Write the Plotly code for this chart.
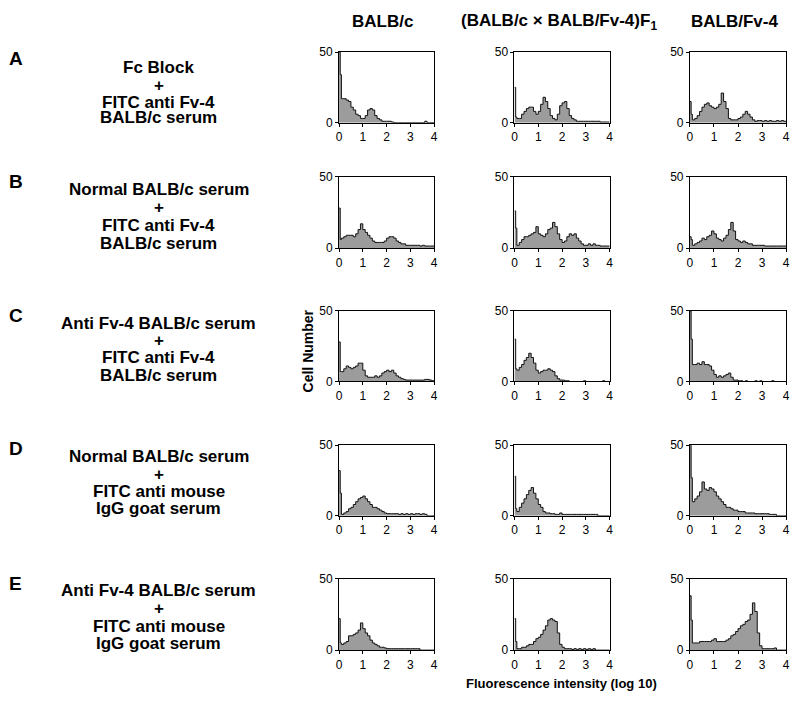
import plotly.graph_objects as go
from plotly.subplots import make_subplots

# left edges of the histogram channels (log10 fluorescence)
BIN_EDGES = [0.0, 0.05, 0.1, 0.2, 0.3, 0.4, 0.5, 0.6, 0.7, 0.8, 0.9,
             1.0, 1.1, 1.2, 1.3, 1.4, 1.5, 1.6, 1.7, 1.8, 1.9,
             2.0, 2.1, 2.2, 2.3, 2.4, 2.5, 2.6, 2.7, 2.8, 2.9,
             3.0, 3.1, 3.2, 3.3, 3.4, 3.5, 3.6, 3.7, 3.8, 3.9]
X_END = 4.0

STRAINS = ["BALB/c", "(BALB/c × BALB/Fv-4)F<sub>1</sub>", "BALB/Fv-4"]
ROW_LETTERS = ["A", "B", "C", "D", "E"]
TREATMENTS = [
    ["Fc Block", "+", "FITC anti Fv-4", "BALB/c serum"],
    ["Normal BALB/c serum", "+", "FITC anti Fv-4", "BALB/c serum"],
    ["Anti Fv-4 BALB/c serum", "+", "FITC anti Fv-4", "BALB/c serum"],
    ["Normal BALB/c serum", "+", "FITC anti mouse", "IgG goat serum"],
    ["Anti Fv-4 BALB/c serum", "+", "FITC anti mouse", "IgG goat serum"],
]

# cell counts per channel
A_BALBC = [50, 34, 17, 17, 16, 15, 11, 9, 6, 5, 3,
           3, 5, 9, 10, 9, 5, 3, 2, 1, 1,
           1, 1, 0.5, 0, 0, 0, 0, 0, 0, 0,
           0, 0, 0, 0, 0, 0, 1, 0, 0, 0]
A_F1 = [25, 4, 3, 3, 6, 8, 10, 11, 11, 8, 6,
        8, 13, 18, 15, 10, 5, 3, 2, 6, 12,
        14, 15, 10, 5, 3, 2, 1, 1, 1, 1,
        1, 1, 1, 1, 1, 1, 0.5, 0.5, 0.5, 0.5]
A_FV4 = [15, 6, 2, 3, 5, 8, 11, 13, 14, 12, 11,
         10, 11, 13, 21, 15, 10, 3, 2, 2, 2,
         3, 4, 6, 8, 6, 4, 2, 1, 1.5, 1.5,
         1, 1.5, 1, 1.5, 1, 1, 1.5, 1, 1.5, 1]

B_BALBC = [28, 6, 7, 8, 9, 9, 9, 8, 10, 13, 17,
           13, 11, 9, 7, 5, 4, 4, 4, 4, 5,
           7, 8, 8, 7, 5, 4, 3, 3, 2, 2,
           2, 2, 2, 2, 1.5, 2, 1.5, 1.5, 1.5, 1.5]
B_F1 = [26, 14, 2, 4, 6, 8, 8, 9, 10, 11, 15,
        10, 9, 8, 10, 13, 14, 18, 15, 10, 6,
        4, 5, 8, 10, 9, 10, 7, 5, 3, 2,
        2, 3, 2, 3, 2, 2, 1.5, 1.5, 1.5, 1.5]
B_FV4 = [8, 6, 2, 3, 4, 5, 7, 6, 8, 9, 12,
         10, 7, 6, 5, 7, 9, 13, 18, 12, 6,
         5, 4, 5, 4, 3, 3, 2, 2, 2, 2,
         2, 1.5, 1.5, 1.5, 1.5, 1.5, 1.5, 1.5, 1.5, 1.5]

C_BALBC = [28, 7, 7, 9, 11, 10, 9, 10, 11, 13, 13,
           8, 4, 3, 3, 3, 4, 3, 4, 6, 7,
           8, 7, 8, 6, 4, 3, 2, 1.5, 1, 1,
           1, 1, 1, 1, 1, 1, 1.5, 1.5, 1, 0.5]
C_F1 = [30, 9, 8, 10, 12, 15, 17, 20, 17, 13, 8,
        6, 7, 8, 8, 9, 8, 7, 4, 2, 1,
        1, 0.5, 0.5, 0, 0, 0, 0, 0, 0, 0.5,
        0, 0, 0, 0, 0, 0, 0, 0.5, 0, 0]
C_FV4 = [50, 30, 12, 12, 13, 12, 14, 12, 12, 11, 8,
         5, 3, 4, 3, 4, 5, 6, 3, 1, 1,
         0.5, 0.5, 0, 0.5, 0, 0, 0, 0.5, 0, 0.5,
         0, 0, 0, 0, 0.5, 0, 0, 0, 0, 0]

D_BALBC = [32, 16, 1, 2, 3, 5, 6, 8, 10, 12, 13,
           14, 12, 10, 8, 6, 6, 5, 4, 3, 2,
           1.5, 1.5, 1.5, 1.5, 1.5, 1, 1.5, 1, 1.5, 1,
           1.5, 1, 1.5, 1.5, 1, 1.5, 1, 0, 0, 0]
D_F1 = [28, 5, 3, 6, 9, 12, 15, 18, 20, 16, 12,
        8, 6, 3, 2, 2, 1.5, 1.5, 1, 1, 2,
        1, 1, 1, 1, 1, 1, 1, 1, 1, 1,
        1, 1, 1, 1, 1, 0, 0, 0, 0, 0]
D_FV4 = [50, 27, 10, 12, 14, 17, 24, 19, 18, 20, 19,
         17, 14, 12, 10, 8, 6, 6, 5, 4, 4,
         3, 3, 3, 2, 2, 2, 2, 1.5, 1.5, 1.5,
         1.5, 1.5, 1.5, 1, 1, 1, 0, 0, 0, 0]

E_BALBC = [22, 5, 4, 5, 6, 10, 10, 11, 12, 14, 19,
           15, 12, 10, 7, 5, 4, 3, 2, 2, 1.5,
           1, 1, 1, 1, 1, 1, 1, 1, 1, 1,
           1, 1, 1, 1, 0, 0, 0, 0, 0, 0]
E_F1 = [22, 6, 1, 1, 2, 2, 3, 4, 4, 6, 8,
        9, 11, 14, 17, 21, 22, 21, 20, 12, 4,
        2, 1, 1, 1, 0.5, 1, 0.5, 1, 0.5, 1,
        0.5, 1, 0.5, 1, 0, 0, 0, 0, 0, 0]
E_FV4 = [38, 21, 5, 5, 5, 6, 6, 6, 6, 6, 7,
         8, 6, 6, 6, 6, 7, 8, 10, 11, 13,
         15, 17, 18, 20, 21, 25, 33, 27, 12, 3,
         1, 1, 1, 1, 1, 1.5, 0, 0, 0, 0]

PANELS = [
    [A_BALBC, A_F1, A_FV4],
    [B_BALBC, B_F1, B_FV4],
    [C_BALBC, C_F1, C_FV4],
    [D_BALBC, D_F1, D_FV4],
    [E_BALBC, E_F1, E_FV4],
]

W, H = 800, 713
# pixel boxes of the small plots
COL_PX = [(339, 435), (516, 612), (693, 790)]
ROW_PX = [(46, 118), (173, 246), (310, 382), (447, 519), (583, 656)]
ROW_LINES_PX = [(62, 80, 97, 113), (186, 205, 223, 241), (323, 340, 358, 376),
                (458, 477, 494, 512), (595, 614, 632, 649)]
LETTER_PX = [53, 178, 315, 450, 588]

FONT = "Liberation Sans, Arial, Helvetica, sans-serif"

def px_x(x):
    return x / W

def px_y(y):
    return 1 - y / H

fig = make_subplots(rows=5, cols=3)

for r in range(5):
    for c in range(3):
        counts = PANELS[r][c]
        fig.add_trace(go.Scatter(
            x=BIN_EDGES + [X_END], y=counts + [counts[-1]],
            mode="lines", line=dict(color="#111111", width=1, shape="hv"),
            fill="tozeroy", fillcolor="#9c9c9c", showlegend=False,
            hoverinfo="skip"), row=r + 1, col=c + 1)
        x0, x1 = COL_PX[c]
        y0, y1 = ROW_PX[r]
        fig.update_xaxes(domain=[px_x(x0), px_x(x1)], range=[0, 4],
                         tickvals=[0, 1, 2, 3, 4], row=r + 1, col=c + 1)
        fig.update_yaxes(domain=[px_y(y1), px_y(y0)], range=[0, 50],
                         tickvals=[0, 50], row=r + 1, col=c + 1)

axis_style = dict(showline=True, linecolor="black", linewidth=1, mirror=True,
                  ticks="outside", ticklen=3, tickwidth=1, tickcolor="black",
                  showgrid=False, zeroline=False, ticklabeloverflow="allow",
                  tickfont=dict(family=FONT, size=12, color="black"))
fig.update_xaxes(**axis_style)
fig.update_yaxes(**axis_style)

ann = []
HEAD_X = [383, 561, 738]
for c, name in enumerate(STRAINS):
    ann.append(dict(x=px_x(HEAD_X[c]), y=px_y(15), text="<b>" + name + "</b>",
                    font=dict(size=17)))

for r in range(5):
    ann.append(dict(x=px_x(13), y=px_y(LETTER_PX[r]), text="<b>" + ROW_LETTERS[r] + "</b>",
                    font=dict(size=19)))
    for line, ypx in zip(TREATMENTS[r], ROW_LINES_PX[r]):
        ann.append(dict(x=px_x(157), y=px_y(ypx), text="<b>" + line + "</b>",
                        font=dict(size=17)))

ann.append(dict(x=px_x(308), y=px_y(351), text="<b>Cell Number</b>",
                textangle=-90, font=dict(size=14)))
ann.append(dict(x=px_x(563), y=px_y(690), text="<b>Fluorescence intensity (log 10)</b>",
                font=dict(size=13)))

for a in ann:
    a.update(xref="paper", yref="paper", showarrow=False,
             xanchor="center", yanchor="middle")
    a["font"].update(family=FONT, color="black")

fig.update_layout(width=W, height=H, margin=dict(l=0, r=0, t=0, b=0),
                  paper_bgcolor="white", plot_bgcolor="white",
                  annotations=ann)

# page body has a default margin; drop it so the figure fills the window
fig.write_html("out.html", config={"displayModeBar": False},
               post_script="document.body.style.margin='0';"
                           "document.body.style.overflow='hidden';")
